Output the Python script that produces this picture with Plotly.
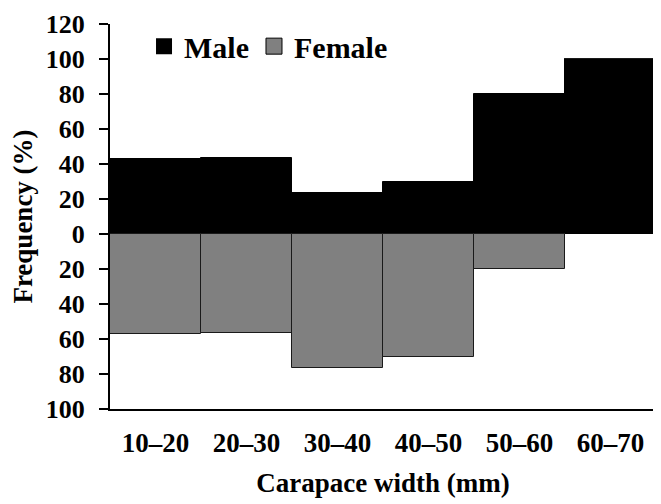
import plotly.graph_objects as go

categories = ["10–20", "20–30", "30–40", "40–50", "50–60", "60–70"]
male = [42.8, 43.7, 23.2, 30.0, 80.0, 100.0]
female = [57.2, 56.3, 76.8, 70.0, 20.0, 0.0]
y_ticks = [120, 100, 80, 60, 40, 20, 0, -20, -40, -60, -80, -100]
y_labels = [str(abs(v)) for v in y_ticks]

font_family = "Liberation Serif"

fig = go.Figure()
fig.add_trace(go.Bar(
    x=categories, y=male, name="Male", showlegend=False,
    marker=dict(color="#000000", line=dict(color="#000000", width=1)),
))
fig.add_trace(go.Bar(
    x=categories, y=[-v for v in female], name="Female", showlegend=False,
    marker=dict(color="#808080", line=dict(color="#1a1a1a", width=1)),
))
# legend entries with bigger square symbols
fig.add_trace(go.Scatter(
    x=[None], y=[None], mode="markers", name="Male",
    marker=dict(symbol="square", size=18, color="#000000"),
))
fig.add_trace(go.Scatter(
    x=[None], y=[None], mode="markers", name="Female",
    marker=dict(symbol="square", size=17, color="#808080",
                line=dict(color="#000000", width=1)),
))

# page body adds an 8px offset, margins take it into account
fig.update_layout(
    width=661, height=504,
    margin=dict(l=102, r=13, t=12, b=103),
    barmode="relative", bargap=0,
    plot_bgcolor="white", paper_bgcolor="white",
    font=dict(family=font_family, size=26, color="#000000"),
    legend=dict(
        orientation="h", x=0.0623, y=1.01, xanchor="left", yanchor="top",
        font=dict(family=font_family, size=30, color="#000000", weight="bold"),
        bgcolor="rgba(0,0,0,0)", itemwidth=30, tracegroupgap=0,
    ),
)
fig.update_yaxes(
    range=[-100, 120], tickvals=y_ticks, ticktext=y_labels,
    showline=True, linecolor="#000000", linewidth=2,
    ticks="outside", ticklen=9, tickwidth=2, tickcolor="#000000",
    showgrid=False, zeroline=False, automargin=False, ticklabelstandoff=9,
    ticklabeloverflow="allow",
    tickfont=dict(family=font_family, size=26, weight="bold"),
    title=dict(text="Frequency (%)", standoff=14,
               font=dict(family=font_family, size=27, weight="bold")),
)
fig.update_xaxes(
    showline=True, linecolor="#000000", linewidth=2,
    ticks="", showgrid=False, ticklabelstandoff=9, automargin=False,
    tickfont=dict(family=font_family, size=27, weight="bold"),
    title=dict(text="Carapace width (mm)", standoff=16,
               font=dict(family=font_family, size=27, weight="bold")),
)

fig.write_html("out.html")
